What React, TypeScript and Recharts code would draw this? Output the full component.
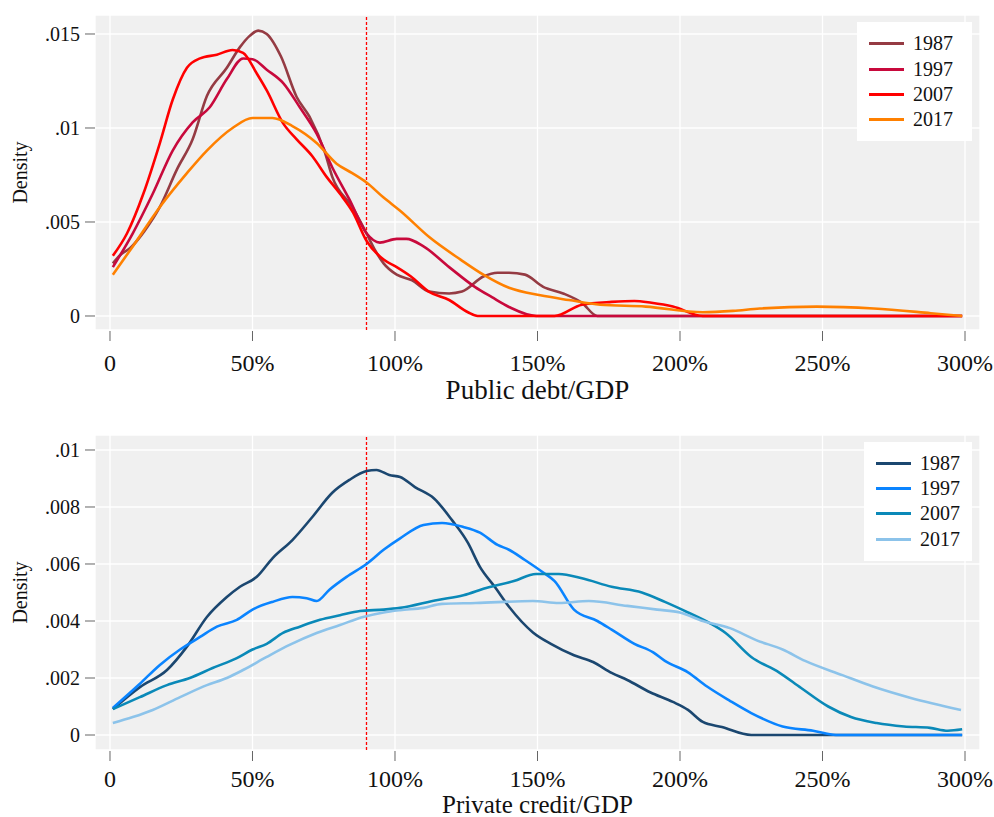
import React from 'react';
import { LineChart, Line, XAxis, YAxis, CartesianGrid, ReferenceLine, Legend, Label } from 'recharts';

const FONT = '"Liberation Serif", "Times New Roman", serif';

const years = ['1987', '1997', '2007', '2017'];
const xTicks = [0, 50, 100, 150, 200, 250, 300];
const xTickLabels = ['0', '50%', '100%', '150%', '200%', '250%', '300%'];
const pubYTicks = [0, 0.005, 0.01, 0.015];
const pubYTickLabels = ['0', '.005', '.01', '.015'];
const prvYTicks = [0, 0.002, 0.004, 0.006, 0.008, 0.01];
const prvYTickLabels = ['0', '.002', '.004', '.006', '.008', '.01'];
const pubColors = ['#953B43', '#C8093C', '#FF0000', '#FF8000'];
const prvColors = ['#1B4770', '#0A84FF', '#0A89B8', '#8CC3EA'];

// Public debt/GDP densities: [x (% of GDP), density]
const pub1987 = [[1,.0028],[4,.0033],[7,.0036],[12,.0045],[17.5,.0058],[23.5,.0078],[29,.0094],[34,.0117],[41,.0132],[45.6,.0143],[49,.0149],[52,.01518],[55,.0150],[60,.0138],[65.5,.01165],[70,.0106],[75.4,.0087],[78,.0074],[85,.0058],[90,.0044],[93,.0035],[96,.0028],[100.6,.0022],[106,.0019],[112,.0013],[119,.0012],[123.5,.0013],[131,.0021],[136,.0023],[140,.0023],[145.6,.0022],[152,.00155],[159,.0012],[165.6,.0007],[171,0],[299,0]];
const pub1997 = [[1,.0026],[8,.0044],[15,.0065],[22,.0088],[29,.0103],[35,.0111],[41,.0126],[46.7,.0137],[50,.01366],[55,.0131],[60.7,.0124],[66.6,.0111],[72.5,.0097],[78,.0079],[84,.0062],[90,.0044],[94.7,.0039],[100.6,.0041],[104,.0041],[110,.0037],[119,.0026],[128,.00155],[134,.0010],[140,.00048],[149.6,0],[299,0]];
const pub2007 = [[1,.0032],[6,.0044],[11.7,.0065],[17.5,.0092],[22,.0115],[27,.0132],[31.6,.0137],[37.5,.0139],[43,.01415],[46.7,.0140],[51.5,.0129],[55,.0120],[60.7,.01026],[65.5,.0094],[71,.0085],[76,.0074],[80.7,.0065],[85.3,.0055],[90,.0040],[96,.0030],[100.6,.0026],[105.6,.0021],[112,.00128],[119,.00085],[125.6,.0002],[129,0],[156,0],[165.6,.0006],[176,.00075],[184,.0008],[190,.0007],[197.5,.0005],[208,0],[299,0]];
const pub2017 = [[1,.0022],[8,.0037],[17.5,.0058],[27,.0076],[34,.0088],[43,.0100],[50,.01053],[57,.01053],[64,.0101],[72.5,.0092],[79.5,.0081],[85,.0076],[90,.0071],[96,.0063],[101.8,.0056],[112,.0042],[123,.003],[131,.0022],[140,.0015],[151,.0011],[161,.00085],[172,.0006],[188,.0005],[208,.0002],[218.6,.00027],[228,.0004],[248,.0005],[268,.0004],[288,.00015],[299,0]];

// Private credit/GDP densities
const prv1987 = [[1,.00091],[10.5,.00168],[20,.00228],[27,.0031],[34,.00414],[41,.00484],[45.6,.0052],[51.5,.00555],[57,.0062],[64,.00684],[71,.00765],[78,.0085],[84,.00895],[90,.00926],[93.5,.0093],[98,.00912],[101.8,.00905],[107,.0087],[113.7,.0083],[120,.00754],[125.6,.00674],[129.8,.0059],[135,.0052],[140,.0045],[148.4,.0036],[154.7,.0032],[162.8,.0028],[169.5,.00256],[176,.00218],[181.5,.00193],[189.5,.0015],[197.5,.00116],[202.8,.00088],[208,.00046],[214.7,.00028],[225,0],[299,0]];
const prv1997 = [[1,.00095],[10.5,.0018],[17.5,.00246],[24.6,.003],[31.6,.00344],[37.5,.0038],[44.5,.00404],[50,.0044],[57,.00467],[64,.00484],[69,.0048],[72.5,.0047],[77,.0051],[83,.00555],[90,.006],[96,.0065],[101.8,.0069],[110,.00737],[116.5,.00744],[124,.0073],[129.8,.0071],[136,.00667],[140,.0065],[145.6,.00614],[152,.0057],[156,.0054],[162.8,.0044],[171,.004],[176,.0037],[184,.0032],[190.6,.0029],[194.7,.0026],[202.8,.0022],[209.5,.0017],[217.5,.0012],[225,.00077],[236,.0003],[246.7,.00015],[254.7,0],[299,0]];
const prv2007 = [[1,.00091],[10.5,.00133],[20,.00175],[28,.002],[36,.00235],[44.5,.0027],[50,.003],[55,.0032],[60.7,.00358],[66.6,.0038],[73.7,.00404],[80.7,.0042],[87.7,.00435],[96,.0044],[101.8,.00446],[115,.00474],[124,.0049],[132,.00516],[141.7,.0054],[149.5,.00565],[157.5,.00565],[165.6,.0055],[176,.0052],[186.6,.005],[194.7,.00467],[202.8,.0043],[210.9,.0039],[216,.00358],[225,.00274],[234.7,.0022],[242.5,.00165],[252,.001],[260,.00063],[269,.00042],[278.6,.0003],[287.7,.00025],[294,.00015],[299,.0002]];
const prv2017 = [[1,.00042],[8,.00063],[15,.00088],[24.6,.00133],[34,.00175],[41,.002],[46.7,.00228],[55,.00274],[63,.00316],[72.5,.00358],[80.7,.00386],[88.8,.00414],[96,.0043],[101.8,.00438],[110,.00446],[116.5,.0046],[128.4,.00463],[148.4,.0047],[157.5,.00463],[168,.0047],[181.5,.00453],[192,.0044],[200,.0043],[208,.004],[217.5,.00375],[226.7,.00333],[236,.003],[243.9,.0026],[257,.0021],[267.7,.0017],[281,.0013],[298.6,.00088]];

const toPts = (arr: number[][]) => arr.map(([x, y]) => ({ x, y }));

const makeXTick = (labelOff: number) => (props: any) => {
  const { x, y, payload } = props;
  const i = xTicks.indexOf(payload.value);
  return (
    <g>
      <line x1={x} x2={x} y1={y + 1} y2={y + 11} stroke="#666" strokeWidth={1} />
      <text x={x} y={y + labelOff} textAnchor="middle" dominantBaseline="central" fontFamily={FONT} fontSize={24} fill="#111">
        {i >= 0 ? xTickLabels[i] : ''}
      </text>
    </g>
  );
};

const makeYTick = (vals: number[], labels: string[]) => (props: any) => {
  const { x, y, payload } = props;
  const i = vals.findIndex((v) => Math.abs(v - payload.value) < 1e-9);
  return (
    <g>
      <line x1={x - 10} x2={x} y1={y} y2={y} stroke="#666" strokeWidth={1} />
      <text x={x - 15} y={y} textAnchor="end" dominantBaseline="central" fontFamily={FONT} fontSize={20} fill="#111">
        {i >= 0 ? labels[i] : ''}
      </text>
    </g>
  );
};

const makeXTitle = (text: string, off: number, size: number) => (props: any) => {
  const vb = props.viewBox || {};
  return (
    <text x={vb.x + vb.width / 2} y={vb.y + off} textAnchor="middle" dominantBaseline="central" fontFamily={FONT} fontSize={size} fill="#111">
      {text}
    </text>
  );
};

const yTitle = (props: any) => {
  const vb = props.viewBox || {};
  const cy = vb.y + vb.height / 2;
  return (
    <text x={20} y={cy} transform={`rotate(-90 20 ${cy})`} textAnchor="middle" dominantBaseline="central" fontFamily={FONT} fontSize={20} fill="#111">
      Density
    </text>
  );
};

const LegendBox = ({ colors, width, padTop }: { colors: string[]; width: number; padTop: number }) => (
  <div style={{ background: '#fff', width, height: 119, boxSizing: 'border-box', paddingTop: padTop, fontFamily: FONT }}>
    {years.map((yr, i) => (
      <div key={yr} style={{ height: 25.4, display: 'flex', alignItems: 'center' }}>
        <svg width={56} height={25} style={{ display: 'block' }}>
          <line x1={12} x2={47} y1={12.5} y2={12.5} stroke={colors[i]} strokeWidth={3} />
        </svg>
        <span style={{ fontSize: 20, color: '#111', lineHeight: '25px' }}>{yr}</span>
      </div>
    ))}
  </div>
);

const pubSeries = [pub1987, pub1997, pub2007, pub2017];
const prvSeries = [prv1987, prv1997, prv2007, prv2017];

export default function App() {
  return (
    <div style={{ position: 'absolute', left: 0, top: 0, width: 994, height: 817, background: '#fff' }}>
      <LineChart width={994} height={410} margin={{ top: 15, right: 14, bottom: 0, left: 0 }}>
        <CartesianGrid fill="#f0f0f0" stroke="#ffffff" strokeWidth={1.3} />
        <XAxis type="number" dataKey="x" domain={[-5.26, 305.26]} ticks={xTicks} allowDataOverflow height={80}
          axisLine={false} tickLine={false} tickSize={0} tickMargin={0} interval={0} tick={makeXTick(33)}>
          <Label content={makeXTitle('Public debt/GDP', 60, 27)} />
        </XAxis>
        <YAxis type="number" domain={[-0.000745, 0.01601]} ticks={pubYTicks} allowDataOverflow width={95}
          axisLine={false} tickLine={false} tickSize={0} tickMargin={0} interval={0} tick={makeYTick(pubYTicks, pubYTickLabels)}>
          <Label content={yTitle} />
        </YAxis>
        <ReferenceLine x={90} stroke="#ff0000" strokeDasharray="3 2" strokeWidth={1.3} />
        {pubSeries.map((s, i) => (
          <Line key={years[i]} data={toPts(s)} dataKey="y" name={years[i]} type="monotone" stroke={pubColors[i]}
            strokeWidth={2.6} dot={false} activeDot={false} isAnimationActive={false} />
        ))}
        <Legend layout="vertical" align="center" verticalAlign="middle"
          wrapperStyle={{ left: 857, top: 22, width: 115, height: 119 }}
          content={() => <LegendBox colors={pubColors} width={115} padTop={9} />} />
      </LineChart>
      <LineChart width={994} height={407} margin={{ top: 25, right: 14, bottom: 0, left: 0 }}>
        <CartesianGrid fill="#f0f0f0" stroke="#ffffff" strokeWidth={1.3} />
        <XAxis type="number" dataKey="x" domain={[-5.26, 305.26]} ticks={xTicks} allowDataOverflow height={67}
          axisLine={false} tickLine={false} tickSize={0} tickMargin={0} interval={0} tick={makeXTick(29)}>
          <Label content={makeXTitle('Private credit/GDP', 54, 25)} />
        </XAxis>
        <YAxis type="number" domain={[-0.000526, 0.010526]} ticks={prvYTicks} allowDataOverflow width={95}
          axisLine={false} tickLine={false} tickSize={0} tickMargin={0} interval={0} tick={makeYTick(prvYTicks, prvYTickLabels)}>
          <Label content={yTitle} />
        </YAxis>
        <ReferenceLine x={90} stroke="#ff0000" strokeDasharray="3 2" strokeWidth={1.3} />
        {prvSeries.map((s, i) => (
          <Line key={years[i]} data={toPts(s)} dataKey="y" name={years[i]} type="monotone" stroke={prvColors[i]}
            strokeWidth={2.6} dot={false} activeDot={false} isAnimationActive={false} />
        ))}
        <Legend layout="vertical" align="center" verticalAlign="middle"
          wrapperStyle={{ left: 864, top: 32, width: 108, height: 119 }}
          content={() => <LegendBox colors={prvColors} width={108} padTop={8.5} />} />
      </LineChart>
    </div>
  );
}
